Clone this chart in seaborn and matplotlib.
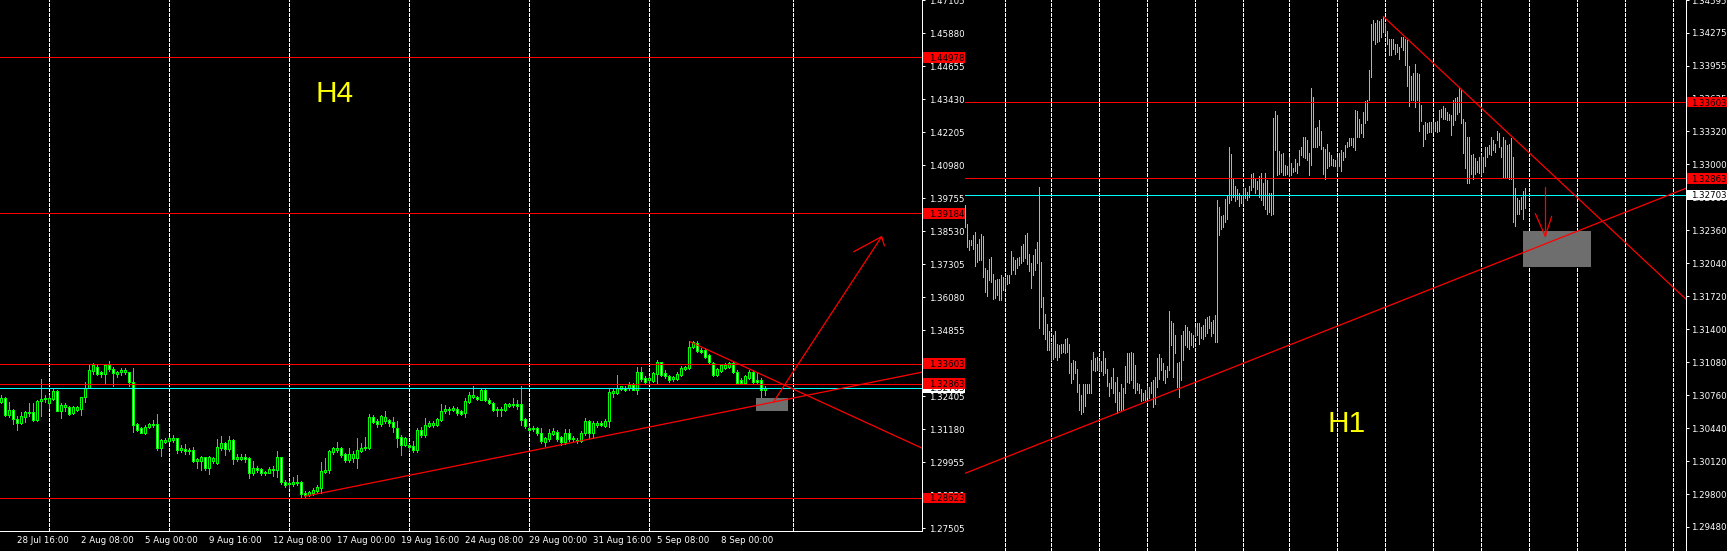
import matplotlib
matplotlib.use("Agg")
import numpy as np
import pandas as pd
import matplotlib.pyplot as plt
from matplotlib.patches import Rectangle
from matplotlib.transforms import blended_transform_factory
import seaborn as sns

# ---------------- H4 candles (prices) ----------------
h4_open = [1.3219, 1.3232, 1.3170, 1.3188, 1.3157, 1.3139, 1.3163, 1.3176, 1.3180, 1.3151,
           1.3222, 1.3228, 1.3213, 1.3228, 1.3259, 1.3186, 1.3201, 1.3201, 1.3176, 1.3188,
           1.3191, 1.3235, 1.3271, 1.3334, 1.3347, 1.3330, 1.3321, 1.3355, 1.3339, 1.3324,
           1.3330, 1.3328, 1.3328, 1.3293, 1.3136, 1.3120, 1.3104, 1.3124, 1.3133, 1.3136,
           1.3046, 1.3071, 1.3073, 1.3077, 1.3083, 1.3040, 1.3042, 1.3040, 1.3040, 1.2999,
           1.2999, 1.3013, 1.2974, 1.3000, 1.2993, 1.3048, 1.3065, 1.3042, 1.3077, 1.3006,
           1.3008, 1.3013, 1.3009, 1.2953, 1.2972, 1.2968, 1.2959, 1.2956, 1.2966, 1.2966,
           1.3013, 1.2920, 1.2914, 1.2914, 1.2916, 1.2920, 1.2879, 1.2873, 1.2879, 1.2889,
           1.2900, 1.2959, 1.2966, 1.3034, 1.3040, 1.3046, 1.3024, 1.3003, 1.3011, 1.3011,
           1.3037, 1.3046, 1.3048, 1.3161, 1.3147, 1.3135, 1.3149, 1.3151, 1.3145, 1.3123,
           1.3088, 1.3059, 1.3059, 1.3055, 1.3041, 1.3115, 1.3096, 1.3131, 1.3133, 1.3133,
           1.3152, 1.3183, 1.3187, 1.3187, 1.3193, 1.3183, 1.3177, 1.3220, 1.3236, 1.3238,
           1.3226, 1.3263, 1.3226, 1.3214, 1.3193, 1.3192, 1.3187, 1.3205, 1.3206, 1.3210,
           1.3211, 1.3156, 1.3121, 1.3117, 1.3121, 1.3102, 1.3069, 1.3080, 1.3100, 1.3106,
           1.3088, 1.3068, 1.3102, 1.3086, 1.3078, 1.3072, 1.3102, 1.3148, 1.3102, 1.3133,
           1.3142, 1.3130, 1.3146, 1.3253, 1.3253, 1.3268, 1.3272, 1.3269, 1.3282, 1.3263,
           1.3331, 1.3307, 1.3300, 1.3298, 1.3323, 1.3365, 1.3325, 1.3315, 1.3303, 1.3304,
           1.3319, 1.3341, 1.3344, 1.3422, 1.3436, 1.3412, 1.3412, 1.3391, 1.3362, 1.3319,
           1.3335, 1.3346, 1.3350, 1.3362, 1.3331, 1.3300, 1.3290, 1.3309, 1.3329, 1.3300,
           1.3300, 1.3261]
h4_high = [1.3246, 1.3235, 1.3219, 1.3194, 1.3166, 1.3182, 1.3186, 1.3213, 1.3213, 1.3225,
           1.3302, 1.3246, 1.3244, 1.3272, 1.3262, 1.3215, 1.3215, 1.3204, 1.3203, 1.3203,
           1.3238, 1.3293, 1.3359, 1.3364, 1.3355, 1.3334, 1.3359, 1.3371, 1.3347, 1.3333,
           1.3343, 1.3343, 1.3330, 1.3345, 1.3139, 1.3124, 1.3133, 1.3139, 1.3151, 1.3173,
           1.3081, 1.3083, 1.3089, 1.3095, 1.3086, 1.3058, 1.3062, 1.3046, 1.3052, 1.3009,
           1.3018, 1.3015, 1.3018, 1.3013, 1.3081, 1.3092, 1.3071, 1.3092, 1.3081, 1.3025,
           1.3025, 1.3027, 1.3015, 1.2999, 1.2980, 1.2974, 1.2963, 1.2978, 1.2980, 1.3036,
           1.3015, 1.2928, 1.2926, 1.2941, 1.2947, 1.2925, 1.2889, 1.2889, 1.2898, 1.2910,
           1.2997, 1.3009, 1.3040, 1.3052, 1.3071, 1.3052, 1.3030, 1.3048, 1.3037, 1.3083,
           1.3065, 1.3089, 1.3173, 1.3170, 1.3157, 1.3171, 1.3185, 1.3157, 1.3163, 1.3147,
           1.3094, 1.3090, 1.3063, 1.3072, 1.3121, 1.3125, 1.3158, 1.3146, 1.3146, 1.3158,
           1.3211, 1.3208, 1.3201, 1.3204, 1.3199, 1.3189, 1.3232, 1.3257, 1.3276, 1.3242,
           1.3266, 1.3266, 1.3232, 1.3220, 1.3201, 1.3201, 1.3216, 1.3214, 1.3232, 1.3224,
           1.3278, 1.3158, 1.3130, 1.3130, 1.3127, 1.3121, 1.3090, 1.3117, 1.3121, 1.3115,
           1.3093, 1.3117, 1.3117, 1.3093, 1.3084, 1.3109, 1.3158, 1.3152, 1.3146, 1.3146,
           1.3148, 1.3154, 1.3269, 1.3269, 1.3319, 1.3279, 1.3278, 1.3294, 1.3290, 1.3350,
           1.3350, 1.3313, 1.3313, 1.3328, 1.3375, 1.3368, 1.3337, 1.3319, 1.3315, 1.3328,
           1.3352, 1.3352, 1.3445, 1.3443, 1.3443, 1.3418, 1.3418, 1.3396, 1.3368, 1.3344,
           1.3358, 1.3362, 1.3368, 1.3372, 1.3337, 1.3307, 1.3319, 1.3337, 1.3337, 1.3325,
           1.3307, 1.3278]
h4_low = [1.3213, 1.3166, 1.3161, 1.3136, 1.3116, 1.3136, 1.3145, 1.3166, 1.3147, 1.3149,
          1.3166, 1.3217, 1.3197, 1.3225, 1.3185, 1.3159, 1.3186, 1.3170, 1.3173, 1.3186,
          1.3170, 1.3219, 1.3269, 1.3324, 1.3318, 1.3312, 1.3287, 1.3334, 1.3279, 1.3312,
          1.3318, 1.3321, 1.3279, 1.3108, 1.3112, 1.3102, 1.3099, 1.3120, 1.3124, 1.3040,
          1.3018, 1.3065, 1.3071, 1.3071, 1.3030, 1.3034, 1.3027, 1.3027, 1.2997, 1.2972,
          1.2966, 1.2966, 1.2951, 1.2993, 1.2988, 1.3040, 1.3021, 1.3037, 1.2988, 1.3000,
          1.3003, 1.2997, 1.2935, 1.2947, 1.2959, 1.2947, 1.2947, 1.2953, 1.2943, 1.2941,
          1.2914, 1.2904, 1.2898, 1.2908, 1.2910, 1.2867, 1.2867, 1.2869, 1.2873, 1.2881,
          1.2881, 1.2953, 1.2953, 1.3027, 1.3034, 1.3015, 1.2997, 1.2994, 1.2997, 1.2975,
          1.3034, 1.3040, 1.3043, 1.3139, 1.3124, 1.3130, 1.3141, 1.3129, 1.3108, 1.3052,
          1.3022, 1.3055, 1.3041, 1.3034, 1.3034, 1.3088, 1.3090, 1.3125, 1.3127, 1.3131,
          1.3146, 1.3177, 1.3174, 1.3183, 1.3170, 1.3170, 1.3161, 1.3214, 1.3232, 1.3224,
          1.3224, 1.3222, 1.3210, 1.3183, 1.3168, 1.3167, 1.3183, 1.3199, 1.3199, 1.3192,
          1.3133, 1.3121, 1.3102, 1.3112, 1.3096, 1.3065, 1.3055, 1.3075, 1.3096, 1.3075,
          1.3059, 1.3063, 1.3075, 1.3072, 1.3065, 1.3068, 1.3096, 1.3084, 1.3084, 1.3125,
          1.3130, 1.3125, 1.3127, 1.3238, 1.3248, 1.3261, 1.3260, 1.3263, 1.3261, 1.3248,
          1.3298, 1.3290, 1.3290, 1.3294, 1.3288, 1.3315, 1.3307, 1.3294, 1.3297, 1.3300,
          1.3315, 1.3337, 1.3340, 1.3418, 1.3405, 1.3399, 1.3381, 1.3360, 1.3315, 1.3315,
          1.3331, 1.3340, 1.3344, 1.3325, 1.3286, 1.3288, 1.3288, 1.3305, 1.3290, 1.3288,
          1.3238, 1.3245]
h4_close = [1.3232, 1.3170, 1.3188, 1.3157, 1.3141, 1.3166, 1.3180, 1.3182, 1.3151, 1.3222,
            1.3228, 1.3232, 1.3232, 1.3259, 1.3186, 1.3207, 1.3207, 1.3172, 1.3201, 1.3198,
            1.3235, 1.3272, 1.3337, 1.3355, 1.3324, 1.3321, 1.3355, 1.3339, 1.3327, 1.3330,
            1.3337, 1.3337, 1.3293, 1.3133, 1.3114, 1.3104, 1.3124, 1.3135, 1.3136, 1.3046,
            1.3077, 1.3079, 1.3083, 1.3083, 1.3040, 1.3046, 1.3037, 1.3037, 1.3000, 1.3005,
            1.3013, 1.2974, 1.3013, 1.3009, 1.3050, 1.3065, 1.3042, 1.3077, 1.3005, 1.3013,
            1.3015, 1.3008, 1.2953, 1.2972, 1.2966, 1.2953, 1.2956, 1.2968, 1.2969, 1.3013,
            1.2920, 1.2910, 1.2919, 1.2920, 1.2922, 1.2877, 1.2873, 1.2885, 1.2891, 1.2904,
            1.2962, 1.2966, 1.3036, 1.3048, 1.3046, 1.3021, 1.3003, 1.3024, 1.3024, 1.3040,
            1.3048, 1.3052, 1.3161, 1.3145, 1.3135, 1.3166, 1.3161, 1.3141, 1.3124, 1.3083,
            1.3059, 1.3084, 1.3053, 1.3041, 1.3115, 1.3096, 1.3133, 1.3140, 1.3140, 1.3154,
            1.3185, 1.3193, 1.3193, 1.3195, 1.3177, 1.3174, 1.3222, 1.3245, 1.3245, 1.3230,
            1.3263, 1.3226, 1.3214, 1.3189, 1.3187, 1.3187, 1.3210, 1.3210, 1.3211, 1.3205,
            1.3152, 1.3130, 1.3115, 1.3123, 1.3102, 1.3072, 1.3084, 1.3102, 1.3109, 1.3081,
            1.3068, 1.3102, 1.3081, 1.3080, 1.3072, 1.3105, 1.3148, 1.3102, 1.3140, 1.3142,
            1.3133, 1.3148, 1.3257, 1.3260, 1.3272, 1.3276, 1.3263, 1.3282, 1.3263, 1.3331,
            1.3303, 1.3294, 1.3307, 1.3325, 1.3365, 1.3319, 1.3313, 1.3300, 1.3310, 1.3323,
            1.3344, 1.3350, 1.3424, 1.3440, 1.3409, 1.3405, 1.3387, 1.3365, 1.3319, 1.3341,
            1.3354, 1.3354, 1.3362, 1.3331, 1.3290, 1.3290, 1.3313, 1.3329, 1.3294, 1.3292,
            1.3261, 1.3270]
h4_tick_bars = [4, 20, 36, 52, 68, 84, 100, 116, 132, 148, 164, 180]
h4_tick_labels = ["28 Jul 16:00", "2 Aug 08:00", "5 Aug 00:00", "9 Aug 16:00", "12 Aug 08:00",
                  "17 Aug 00:00", "19 Aug 16:00", "24 Aug 08:00", "29 Aug 00:00", "31 Aug 16:00",
                  "5 Sep 08:00", "8 Sep 00:00"]
h4_separators = [12, 42, 72, 102, 132, 162, 198]
h4_price_ticks = [1.27505, 1.28730, 1.29955, 1.31180, 1.32405, 1.33630, 1.34855, 1.36080, 1.37305,
                  1.38530, 1.39755, 1.40980, 1.42205, 1.43430, 1.44655, 1.45880, 1.47105]
h4_levels = [1.44978, 1.39184, 1.33603, 1.32863, 1.28623]

# ---------------- H1 bars (high / low) ----------------
h1_high = [1.3261, 1.3242, 1.3227, 1.3227, 1.3231, 1.3234, 1.3223, 1.3228, 1.3232, 1.3230,
           1.3199, 1.3197, 1.3208, 1.3210, 1.3194, 1.3188, 1.3189, 1.3189, 1.3193, 1.3191,
           1.3189, 1.3193, 1.3193, 1.3216, 1.3210, 1.3207, 1.3209, 1.3210, 1.3221, 1.3223,
           1.3231, 1.3233, 1.3213, 1.3204, 1.3212, 1.3218, 1.3225, 1.3278, 1.3205, 1.3171,
           1.3155, 1.3145, 1.3138, 1.3126, 1.3134, 1.3138, 1.3126, 1.3125, 1.3126, 1.3126,
           1.3130, 1.3131, 1.3126, 1.3107, 1.3110, 1.3109, 1.3101, 1.3087, 1.3076, 1.3087,
           1.3087, 1.3087, 1.3087, 1.3110, 1.3118, 1.3112, 1.3113, 1.3109, 1.3109, 1.3119,
           1.3112, 1.3101, 1.3088, 1.3094, 1.3102, 1.3089, 1.3094, 1.3079, 1.3087, 1.3083,
           1.3104, 1.3117, 1.3117, 1.3118, 1.3117, 1.3105, 1.3088, 1.3087, 1.3082, 1.3078,
           1.3081, 1.3085, 1.3084, 1.3089, 1.3091, 1.3094, 1.3112, 1.3116, 1.3112, 1.3107,
           1.3100, 1.3104, 1.3158, 1.3148, 1.3146, 1.3134, 1.3107, 1.3108, 1.3134, 1.3138,
           1.3144, 1.3142, 1.3138, 1.3136, 1.3134, 1.3142, 1.3146, 1.3146, 1.3142, 1.3144,
           1.3150, 1.3152, 1.3153, 1.3147, 1.3149, 1.3154, 1.3265, 1.3259, 1.3250, 1.3251,
           1.3266, 1.3270, 1.3317, 1.3310, 1.3286, 1.3279, 1.3276, 1.3272, 1.3270, 1.3277,
           1.3277, 1.3273, 1.3279, 1.3291, 1.3292, 1.3286, 1.3284, 1.3289, 1.3292, 1.3282,
           1.3292, 1.3285, 1.3272, 1.3272, 1.3345, 1.3352, 1.3348, 1.3313, 1.3310, 1.3311,
           1.3299, 1.3298, 1.3307, 1.3301, 1.3296, 1.3305, 1.3301, 1.3314, 1.3317, 1.3327,
           1.3327, 1.3324, 1.3311, 1.3374, 1.3365, 1.3335, 1.3336, 1.3343, 1.3332, 1.3317,
           1.3315, 1.3320, 1.3312, 1.3309, 1.3305, 1.3304, 1.3307, 1.3311, 1.3314, 1.3312,
           1.3319, 1.3322, 1.3326, 1.3326, 1.3326, 1.3353, 1.3352, 1.3344, 1.3339, 1.3351,
           1.3361, 1.3362, 1.3392, 1.3436, 1.3440, 1.3437, 1.3440, 1.3439, 1.3441, 1.3444,
           1.3437, 1.3429, 1.3422, 1.3422, 1.3422, 1.3417, 1.3417, 1.3414, 1.3424, 1.3424,
           1.3422, 1.3421, 1.3395, 1.3386, 1.3389, 1.3397, 1.3389, 1.3388, 1.3358, 1.3338,
           1.3341, 1.3340, 1.3341, 1.3341, 1.3341, 1.3341, 1.3342, 1.3353, 1.3354, 1.3357,
           1.3355, 1.3351, 1.3349, 1.3348, 1.3362, 1.3364, 1.3365, 1.3374, 1.3372, 1.3344,
           1.3341, 1.3327, 1.3327, 1.3309, 1.3310, 1.3306, 1.3303, 1.3307, 1.3309, 1.3307,
           1.3317, 1.3317, 1.3319, 1.3327, 1.3324, 1.3320, 1.3332, 1.3330, 1.3317, 1.3327,
           1.3324, 1.3319, 1.3320, 1.3326, 1.3307, 1.3277, 1.3267, 1.3265, 1.3268, 1.3274,
           1.3277]
h1_low = [1.3239, 1.3220, 1.3217, 1.3222, 1.3218, 1.3201, 1.3205, 1.3207, 1.3207, 1.3191,
          1.3176, 1.3172, 1.3188, 1.3186, 1.3169, 1.3170, 1.3173, 1.3168, 1.3168, 1.3178,
          1.3180, 1.3184, 1.3185, 1.3194, 1.3197, 1.3194, 1.3199, 1.3202, 1.3204, 1.3206,
          1.3209, 1.3203, 1.3196, 1.3180, 1.3193, 1.3197, 1.3204, 1.3141, 1.3162, 1.3135,
          1.3130, 1.3120, 1.3120, 1.3110, 1.3111, 1.3113, 1.3110, 1.3113, 1.3117, 1.3118,
          1.3117, 1.3118, 1.3097, 1.3088, 1.3092, 1.3097, 1.3079, 1.3062, 1.3058, 1.3060,
          1.3065, 1.3078, 1.3078, 1.3078, 1.3100, 1.3099, 1.3100, 1.3100, 1.3099, 1.3096,
          1.3097, 1.3085, 1.3075, 1.3083, 1.3078, 1.3069, 1.3059, 1.3062, 1.3062, 1.3063,
          1.3078, 1.3089, 1.3088, 1.3091, 1.3083, 1.3078, 1.3081, 1.3078, 1.3070, 1.3071,
          1.3071, 1.3074, 1.3073, 1.3078, 1.3064, 1.3067, 1.3084, 1.3092, 1.3100, 1.3091,
          1.3088, 1.3094, 1.3100, 1.3125, 1.3094, 1.3117, 1.3084, 1.3074, 1.3091, 1.3110,
          1.3125, 1.3123, 1.3121, 1.3125, 1.3123, 1.3133, 1.3134, 1.3126, 1.3131, 1.3130,
          1.3133, 1.3136, 1.3141, 1.3133, 1.3136, 1.3128, 1.3128, 1.3231, 1.3237, 1.3239,
          1.3244, 1.3247, 1.3262, 1.3265, 1.3268, 1.3264, 1.3266, 1.3260, 1.3262, 1.3262,
          1.3267, 1.3265, 1.3268, 1.3275, 1.3278, 1.3272, 1.3276, 1.3268, 1.3265, 1.3261,
          1.3257, 1.3252, 1.3254, 1.3251, 1.3252, 1.3314, 1.3290, 1.3291, 1.3293, 1.3290,
          1.3290, 1.3291, 1.3289, 1.3290, 1.3293, 1.3294, 1.3292, 1.3299, 1.3309, 1.3307,
          1.3306, 1.3304, 1.3290, 1.3299, 1.3317, 1.3317, 1.3317, 1.3319, 1.3315, 1.3291,
          1.3286, 1.3296, 1.3298, 1.3299, 1.3298, 1.3298, 1.3294, 1.3298, 1.3294, 1.3304,
          1.3307, 1.3317, 1.3318, 1.3319, 1.3317, 1.3314, 1.3327, 1.3327, 1.3330, 1.3327,
          1.3340, 1.3343, 1.3362, 1.3385, 1.3421, 1.3417, 1.3419, 1.3420, 1.3424, 1.3428,
          1.3427, 1.3417, 1.3406, 1.3406, 1.3412, 1.3407, 1.3409, 1.3402, 1.3414, 1.3411,
          1.3396, 1.3376, 1.3357, 1.3362, 1.3362, 1.3356, 1.3362, 1.3332, 1.3342, 1.3318,
          1.3325, 1.3330, 1.3331, 1.3331, 1.3331, 1.3332, 1.3331, 1.3332, 1.3346, 1.3344,
          1.3344, 1.3343, 1.3343, 1.3328, 1.3338, 1.3343, 1.3349, 1.3351, 1.3340, 1.3311,
          1.3296, 1.3282, 1.3282, 1.3291, 1.3286, 1.3291, 1.3293, 1.3292, 1.3290, 1.3293,
          1.3298, 1.3307, 1.3310, 1.3309, 1.3314, 1.3312, 1.3324, 1.3317, 1.3307, 1.3288,
          1.3287, 1.3288, 1.3286, 1.3286, 1.3244, 1.3240, 1.3252, 1.3252, 1.3257, 1.3247,
          1.3258]
h1_separators = [20, 43, 67, 91, 115, 139, 162, 186, 210, 234, 258, 282, 306, 330, 354]
h1_price_ticks = [1.29480, 1.29800, 1.30120, 1.30440, 1.30760, 1.31080, 1.31400, 1.31720, 1.32040,
                  1.32360, 1.32680, 1.33000, 1.33320, 1.33635, 1.33955, 1.34275, 1.34595]
h1_levels = [1.33603, 1.32863]
bid = 1.32703

# drawn objects (bar index, price)
h4_support_x, h4_support_y = [76, 230.3], [1.2868, 1.3329]
h4_resist_x, h4_resist_y = [172.3, 230.3], [1.3442, 1.3047]
h4_arrow_x, h4_arrow_y = [193.2, 220.2], [1.3219, 1.3832]
h4_head_x, h4_head_y = [213.2, 220.2, 220.9], [1.3776, 1.3832, 1.3798]
h4_zone = [188.8, 196.75, 1.31859, 1.32342]
h1_support_x, h1_support_y = [-0.15, 360.35], [1.30001, 1.32768]
h1_resist_x, h1_resist_y = [209, 360.4], [1.34435, 1.3169]
h1_arrow_x, h1_arrow_y = [290, 290], [1.32777, 1.32302]
h1_head_x, h1_head_y = [285, 290, 293.2], [1.32522, 1.32302, 1.32496]
h1_zone = [278.9, 312.9, 1.32004, 1.32350]

# ---------------- style ----------------
sns.set_theme(style="dark", rc={"axes.facecolor": "black", "figure.facecolor": "black"})
plt.rcParams["font.family"] = ["DejaVu Sans"]
plt.rcParams["lines.scale_dashes"] = False
plt.rcParams["axes.grid"] = False

W, H = 1727, 551
PX = 0.72
LIME = "#00ff00"
H1_GREEN = "#44ff44"
DASH = (0, (2.16, 1.44))

fig = plt.figure(figsize=(W / 100, H / 100), dpi=100, facecolor="black")
ax1 = fig.add_axes([0, (H - 531) / H, 922 / W, 531 / H])
ax2 = fig.add_axes([965 / W, 0, 721 / W, 1])
for ax in (ax1, ax2):
    ax.set_facecolor("black")
    for s in ax.spines.values():
        s.set_visible(False)
    ax.spines["right"].set_visible(True)
    ax.spines["right"].set_color("white")
    ax.spines["right"].set_linewidth(PX)
ax1.spines["bottom"].set_visible(True)
ax1.spines["bottom"].set_color("white")
ax1.spines["bottom"].set_linewidth(PX)


def seg(ax, xs, ys, color="red"):
    sns.lineplot(x=xs, y=ys, ax=ax, color=color, linewidth=0.9, estimator=None, sort=False,
                 legend=False, antialiased=True, zorder=3)


# ---- H4 panel ----
df4 = pd.DataFrame({"open": h4_open, "high": h4_high, "low": h4_low, "close": h4_close})
df4["bar"] = np.arange(len(df4))
for x in h4_separators:
    ax1.axvline(x, color="white", lw=PX, ls=DASH, antialiased=False, zorder=0.5)
ax1.add_patch(Rectangle((h4_zone[0], h4_zone[2]), h4_zone[1] - h4_zone[0], h4_zone[3] - h4_zone[2],
                        facecolor="#6e6e6e", edgecolor="none", zorder=1.6))
ax1.vlines(df4["bar"], df4["low"], df4["high"], colors=LIME, lw=PX, antialiased=False, zorder=2)
body_lo = df4[["open", "close"]].min(axis=1)
body_h = (df4["close"] - df4["open"]).abs().clip(lower=0.00025)
body_c = np.where(df4["close"] >= df4["open"], "black", "white")
ax1.bar(df4["bar"], body_h, bottom=body_lo, width=0.5, color=body_c, edgecolor=LIME,
        linewidth=PX, antialiased=False, zorder=2.5)
for p in h4_levels:
    ax1.axhline(p, color="red", lw=PX, antialiased=False, zorder=3)
ax1.axhline(bid, color="cyan", lw=PX, antialiased=False, zorder=3)
seg(ax1, h4_support_x, h4_support_y)
seg(ax1, h4_resist_x, h4_resist_y)
seg(ax1, h4_arrow_x, h4_arrow_y)
seg(ax1, h4_head_x, h4_head_y)

# ---- H1 panel ----
df1 = pd.DataFrame({"high": h1_high, "low": h1_low})
df1["bar"] = np.arange(len(df1))
for x in h1_separators:
    ax2.axvline(x, color="white", lw=PX, ls=DASH, antialiased=False, zorder=0.5)
ax2.add_patch(Rectangle((h1_zone[0], h1_zone[2]), h1_zone[1] - h1_zone[0], h1_zone[3] - h1_zone[2],
                        facecolor="#6e6e6e", edgecolor="none", zorder=1.6))
ax2.vlines(df1["bar"], df1["low"], df1["high"], colors=H1_GREEN, lw=PX, antialiased=False, zorder=2)
for p in h1_levels:
    ax2.axhline(p, color="red", lw=PX, antialiased=False, zorder=3)
ax2.axhline(bid, color="cyan", lw=PX, antialiased=False, zorder=3)
seg(ax2, h1_support_x, h1_support_y)
seg(ax2, h1_resist_x, h1_resist_y)
seg(ax2, h1_arrow_x, h1_arrow_y)
seg(ax2, h1_head_x, h1_head_y)

# ---- axes, ticks ----
ax1.set_xlim(-0.175, 230.3)
ax1.set_ylim(1.27394, 1.47105)
ax2.set_xlim(-0.15, 360.35)
ax2.set_ylim(1.29247, 1.34591)
for ax in (ax1, ax2):
    ax.set_xlabel("")
    ax.set_ylabel("")

ax1.set_xticks(h4_tick_bars)
ax1.set_xticklabels(h4_tick_labels, ha="left")
ax1.tick_params(axis="x", colors="white", labelsize=6.2, length=2.16, width=PX, pad=1.5, direction="out")
ax1.yaxis.tick_right()
ax1.set_yticks(h4_price_ticks)
ax1.set_yticklabels([f"{v:.5f}" for v in h4_price_ticks])
ax1.tick_params(axis="y", colors="white", labelsize=6.2, length=2.16, width=PX, pad=3.0, direction="out")

ax2.set_xticks([])
ax2.yaxis.tick_right()
ax2.set_yticks(h1_price_ticks)
ax2.set_yticklabels([f"{v:.5f}" for v in h1_price_ticks])
ax2.tick_params(axis="y", colors="white", labelsize=6.2, length=2.16, width=PX, pad=1.5, direction="out")


def tag(ax, price, x0, x1, tx, face, z, scale):
    tr = blended_transform_factory(fig.transFigure, ax.transData)
    h = 10.5 / scale
    ax.add_patch(Rectangle((x0 / W, price - h / 2), (x1 - x0) / W, h, transform=tr,
                           facecolor=face, edgecolor="none", clip_on=False, zorder=z))
    ax.text(tx / W, price, f"{price:.5f}", transform=tr, ha="left", va="center_baseline",
            fontsize=6.2, color="black", clip_on=False, zorder=z + 0.01)


tag(ax1, bid, 923, 965, 929, "white", 1.2, 2694)
for p in h4_levels:
    tag(ax1, p, 923, 965, 929, "red", 1.8, 2694)
for p in h1_levels:
    tag(ax2, p, 1687, 1727, 1691, "red", 1.8, 10312)
tag(ax2, bid, 1687, 1727, 1691, "white", 1.9, 10312)

ax1.text(315.6 / 922, 1 - 101.7 / 531, "H4", transform=ax1.transAxes, color="#ffff00",
         fontsize=21.5, family="Liberation Sans", ha="left", va="baseline", zorder=5)
ax2.text((1327.6 - 965) / 721, 1 - 432.3 / 551, "H1", transform=ax2.transAxes, color="#ffff00",
         fontsize=21.5, family="Liberation Sans", ha="left", va="baseline", zorder=5)

fig.savefig("out.png", dpi=100, facecolor="black")
